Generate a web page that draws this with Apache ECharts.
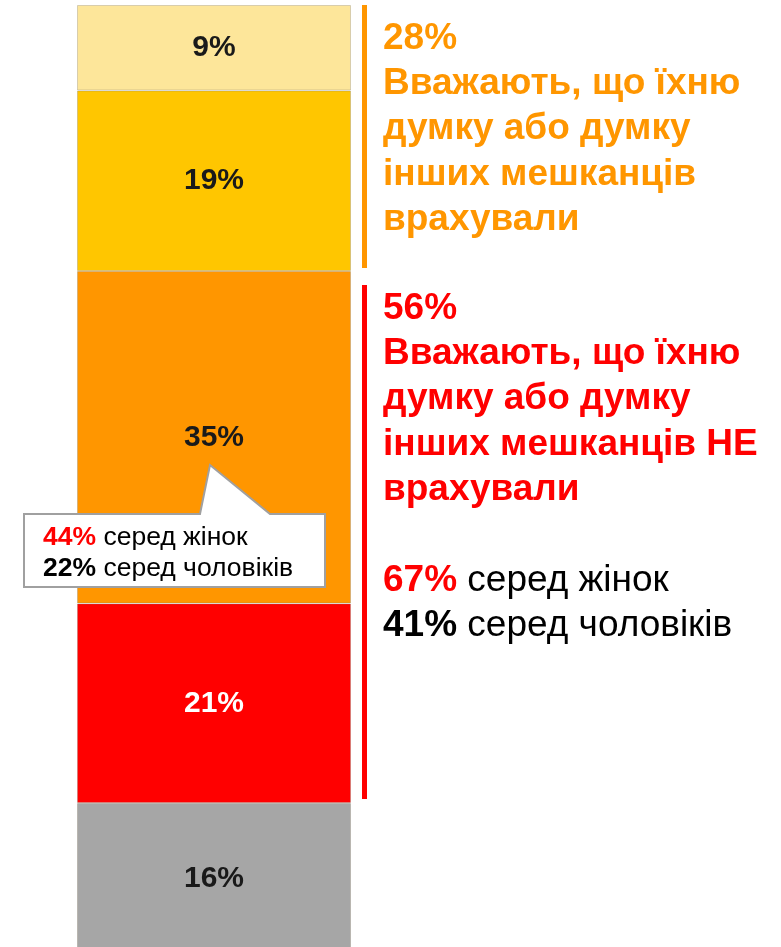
<!DOCTYPE html>
<html><head><meta charset="utf-8">
<script src="https://cdn.jsdelivr.net/npm/echarts@6/dist/echarts.min.js"></script>
<style>html,body{margin:0;padding:0;background:#fff}#c{width:781px;height:947px}</style>
</head><body><div id="c"></div>
<script>
// Data (bottom to top in stack)
const categories = ['Всі'];
const segmentNames = ['16%', '21%', '35%', '19%', '9%'];
const segmentValues = [16, 21, 35, 19, 9];
const segmentColors = ['#A6A6A6', '#FF0000', '#FF9600', '#FFC600', '#FDE69A'];
const labelColors = ['#1a1a1a', '#ffffff', '#1a1a1a', '#1a1a1a', '#1a1a1a'];
const groupConsidered = 28;   // 9 + 19
const groupNotConsidered = 56; // 35 + 21
const womenNot = 67, menNot = 41;
const womenMid = 44, menMid = 22;

const FONT = '"Liberation Sans", Arial, sans-serif';
const chart = echarts.init(document.getElementById('c'), null, {renderer: 'canvas'});

const series = segmentValues.map((v, i) => ({
  type: 'bar', stack: 'all', name: segmentNames[i], data: [v], barWidth: '100%',
  itemStyle: {color: segmentColors[i], borderColor: 'rgba(130,120,100,0.3)', borderWidth: 1},
  label: {show: true, position: 'inside', formatter: '{c}%', fontFamily: FONT,
    fontWeight: 'bold', fontSize: 30, color: labelColors[i]},
  silent: true
}));

chart.setOption({
  animation: false,
  backgroundColor: '#fff',
  grid: {left: 77, width: 274, top: 5, height: 950, outerBoundsMode: 'none', containLabel: false},
  xAxis: {type: 'category', data: categories, show: false},
  yAxis: {type: 'value', min: 0, max: 100, show: false},
  series: series
});

// annotation geometry from the axis scale
const yOf = v => chart.convertToPixel({gridIndex: 0}, [0, v])[1];
const topY = yOf(100), y72 = yOf(100 - groupConsidered), y16 = yOf(segmentValues[0]);
const lineX = 364.5;

chart.setOption({
  graphic: [
    {type: 'rect', z: 100, shape: {x: lineX - 2.5, y: topY, width: 5, height: y72 - 3 - topY},
      style: {fill: '#FF9600'}, silent: true},
    {type: 'rect', z: 100, shape: {x: lineX - 2.5, y: y72 + 14, width: 5, height: y16 - 4 - (y72 + 14)},
      style: {fill: '#FF0000'}, silent: true},
    {type: 'text', z: 100, x: 383, y: 16, silent: true,
      style: {text: groupConsidered + '%\nВважають, що їхню\nдумку або думку\nінших мешканців\nврахували',
        fill: '#FF9600', font: 'bold 37px ' + FONT, lineHeight: 45.3, verticalAlign: 'top'}},
    {type: 'text', z: 100, x: 383, y: 286, silent: true,
      style: {text: groupNotConsidered + '%\nВважають, що їхню\nдумку або думку\nінших мешканців НЕ\nврахували\n\n' +
          '{r|' + womenNot + '%}{n| серед жінок}\n{k|' + menNot + '%}{n| серед чоловіків}',
        fill: '#FF0000', font: 'bold 37px ' + FONT, lineHeight: 45.3, verticalAlign: 'top',
        rich: {
          r: {fill: '#FF0000', fontWeight: 'bold', fontSize: 37, fontFamily: FONT, lineHeight: 45.3},
          k: {fill: '#000', fontWeight: 'bold', fontSize: 37, fontFamily: FONT, lineHeight: 45.3},
          n: {fill: '#000', fontWeight: 'normal', fontSize: 37, fontFamily: FONT, lineHeight: 45.3}
        }}},
    {type: 'polygon', z: 100, silent: true,
      shape: {points: [[24,514],[200,514],[210,465],[270,514],[325,514],[325,587],[24,587]]},
      style: {fill: '#fff', stroke: '#A0A0A0', lineWidth: 2}},
    {type: 'text', z: 101, x: 43, y: 522, silent: true,
      style: {text: '{r|' + womenMid + '%}{n| серед жінок}\n{k|' + menMid + '%}{n| серед чоловіків}',
        verticalAlign: 'top', lineHeight: 31,
        rich: {
          r: {fill: '#FF0000', fontWeight: 'bold', fontSize: 26.5, fontFamily: FONT, lineHeight: 31},
          k: {fill: '#000', fontWeight: 'bold', fontSize: 26.5, fontFamily: FONT, lineHeight: 31},
          n: {fill: '#000', fontWeight: 'normal', fontSize: 26.5, fontFamily: FONT, lineHeight: 31}
        }}}
  ]
});
</script></body></html>
